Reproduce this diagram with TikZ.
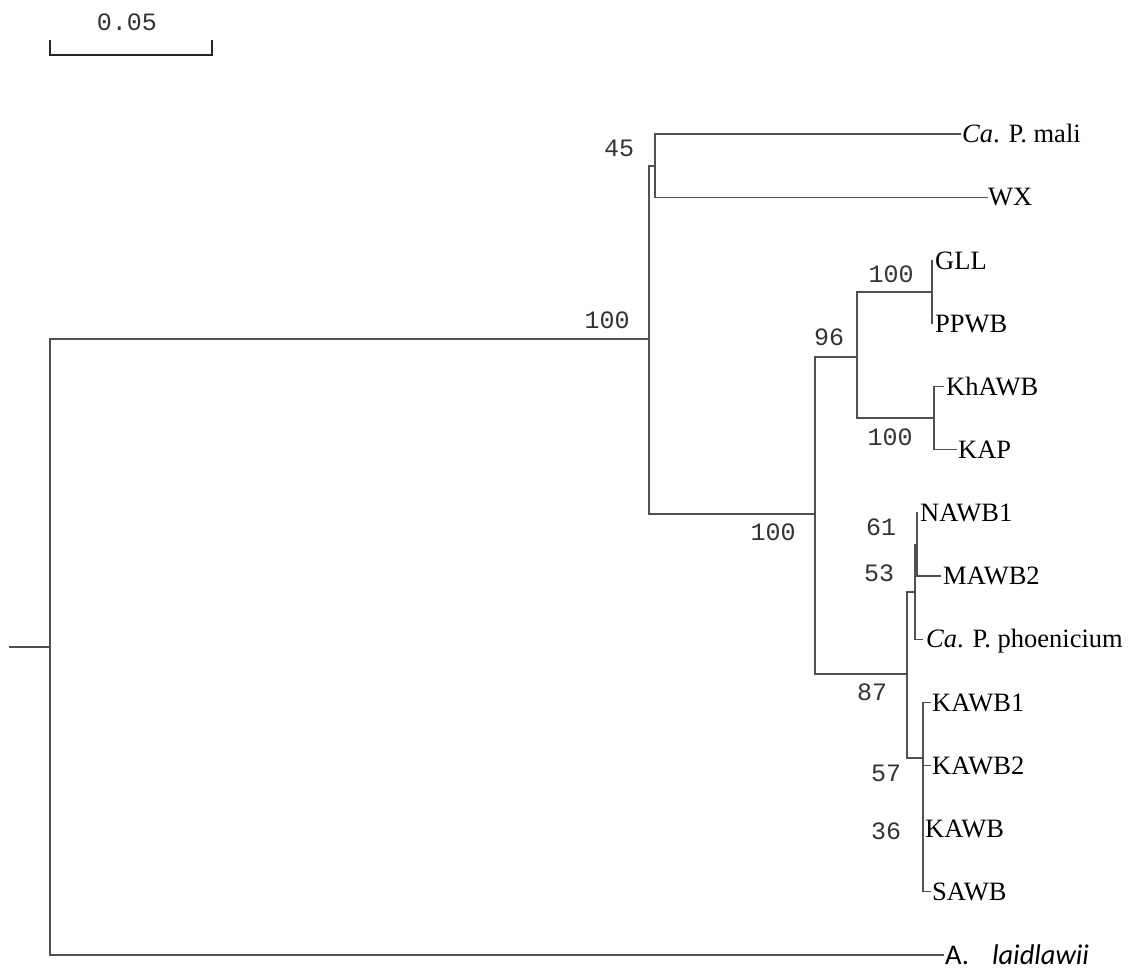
\documentclass[tikz,border=0pt]{standalone}
\usepackage{fontspec}
\setmainfont{Liberation Serif}
\newfontfamily\carlitofont{Carlito}
\newfontfamily\bootfont{Liberation Mono}
\definecolor{branch}{RGB}{80,80,80}
\begin{document}
\begin{tikzpicture}[x=1pt,y=-1pt,
  edge/.style={draw=branch,line width=1.3pt,line cap=rect},
  scalebar/.style={draw=black!85,line width=1.1pt},
  leaf/.style={inner sep=0pt,anchor=west,text height=17.5pt,text depth=0pt,
    font={\fontsize{26.5}{30}\selectfont}},
  boot/.style={inner sep=0pt,anchor=center,text height=16pt,text depth=0pt,
    text=black!80,font={\bootfont\fontsize{25}{30}\selectfont}},
  outgroup/.style={inner sep=0pt,anchor=west,text height=18pt,text depth=0pt,
    font={\carlitofont\fontsize{28.5}{32}\selectfont}}]
\useasboundingbox (0,0) rectangle (1129,969);

% scale bar
\coordinate (s1t) at (50,40);
\coordinate (s1) at (50,55);
\coordinate (s2) at (212,55);
\coordinate (s2t) at (212,40);
\draw[scalebar] (s1t) -- (s1) -- (s2) -- (s2t);
\node[boot] (scalelabel) at (127,22) {0.05};

% internal nodes
\coordinate (r0) at (10,647);
\coordinate (R) at (50,647);
\coordinate (N1) at (649,339);
\coordinate (N45) at (655,166);
\coordinate (N3) at (815,514);
\coordinate (N96) at (857,357);
\coordinate (Ngll) at (932,292);
\coordinate (Nkh) at (934,418);
\coordinate (N87) at (907,674);
\coordinate (N53) at (915,592);
\coordinate (N61) at (917,545);
\coordinate (N57) at (923,758);

% leaf tips
\coordinate (tmali) at (960,134);
\coordinate (twx) at (987,197.2);
\coordinate (tgll) at (932,260.3);
\coordinate (tppwb) at (932,323.5);
\coordinate (tkh) at (943,386.6);
\coordinate (tkap) at (956,449.8);
\coordinate (tnawb) at (917,512.9);
\coordinate (tmawb) at (940,576.1);
\coordinate (tphoe) at (922,639.2);
\coordinate (tkawb1) at (930,702.4);
\coordinate (tkawb2) at (930,765.5);
\coordinate (tkawb) at (923,828.7);
\coordinate (tsawb) at (930,891.8);
\coordinate (tlaid) at (943,955);

% branches
\draw[edge] (r0) -- (R);
\draw[edge] (R) |- (N1);
\draw[edge] (R) |- (tlaid);
\draw[edge] (N1) |- (N45);
\draw[edge] (N1) |- (N3);
\draw[edge] (N45) |- (tmali);
\draw[edge] (N45) |- (twx);
\draw[edge] (N3) |- (N96);
\draw[edge] (N3) |- (N87);
\draw[edge] (N96) |- (Ngll);
\draw[edge] (N96) |- (Nkh);
\draw[edge] (Ngll) |- (tgll);
\draw[edge] (Ngll) |- (tppwb);
\draw[edge] (Nkh) |- (tkh);
\draw[edge] (Nkh) |- (tkap);
\draw[edge] (N87) |- (N53);
\draw[edge] (N87) |- (N57);
\draw[edge] (N53) |- (N61);
\draw[edge] (N53) |- (tphoe);
\draw[edge] (N61) |- (tnawb);
\draw[edge] (N61) |- (tmawb);
\draw[edge] (N57) |- (tkawb1);
\draw[edge] (N57) |- (tkawb2);
\draw[edge] (N57) |- (tkawb);
\draw[edge] (N57) |- (tsawb);

% leaf labels
\node[leaf] (lmali) at (962,134) {\textit{Ca}. P. mali};
\node[leaf] (lwx) at (988,197.2) {WX};
\node[leaf] (lgll) at (935,260.3) {GLL};
\node[leaf] (lppwb) at (935,323.5) {PPWB};
\node[leaf] (lkh) at (946,386.6) {KhAWB};
\node[leaf] (lkap) at (958,449.8) {KAP};
\node[leaf] (lnawb) at (920,512.9) {NAWB1};
\node[leaf] (lmawb) at (943,576.1) {MAWB2};
\node[leaf] (lphoe) at (926,639.2) {\textit{Ca}. P. phoenicium};
\node[leaf] (lkawb1) at (932,702.4) {KAWB1};
\node[leaf] (lkawb2) at (932,765.5) {KAWB2};
\node[leaf] (lkawb) at (925,828.7) {KAWB};
\node[leaf] (lsawb) at (932,891.8) {SAWB};
\node[outgroup] (llaid) at (945,955) {A.\hspace{23pt}\textit{laidlawii}};

% bootstrap values
\node[boot] (b1) at (607,320) {100};
\node[boot] (b45) at (619,148) {45};
\node[boot] (bgll) at (891,274) {100};
\node[boot] (bkh) at (890,437) {100};
\node[boot] (b96) at (829,337) {96};
\node[boot] (b3) at (773,532) {100};
\node[boot] (b61) at (881,527) {61};
\node[boot] (b53) at (879,573) {53};
\node[boot] (b87) at (872,692) {87};
\node[boot] (b57) at (886,773) {57};
\node[boot] (b36) at (886,831) {36};
\end{tikzpicture}
\end{document}
